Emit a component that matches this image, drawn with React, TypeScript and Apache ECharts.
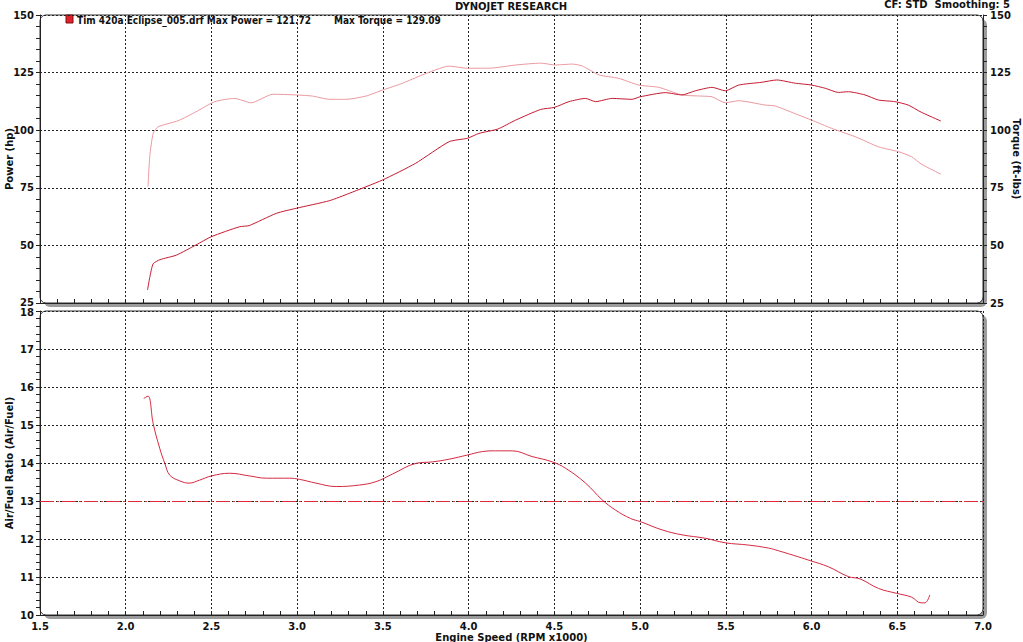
import React, { useEffect, useRef } from "react";
import * as echarts from "echarts";

// ---- Data ----
const powerRpm = [2.127, 2.14, 2.16, 2.2, 2.296, 2.41, 2.5, 2.664, 2.72, 2.878, 2.994, 3.188, 3.304, 3.498, 3.69, 3.886, 3.993, 4.06, 4.17, 4.275, 4.42, 4.5, 4.585, 4.682, 4.74, 4.837, 4.953, 5.0, 5.148, 5.244, 5.322, 5.42, 5.497, 5.575, 5.71, 5.797, 5.905, 6.0, 6.08, 6.156, 6.215, 6.312, 6.39, 6.486, 6.564, 6.64, 6.754];
const powerHp = [30.6, 36, 42, 43.8, 45.8, 50.2, 53.8, 58.1, 58.6, 63.9, 66.1, 69.4, 72.6, 78.4, 85.6, 95, 96.5, 98.6, 100.5, 104.4, 109, 109.9, 112.4, 113.8, 112.4, 113.8, 113.4, 114.5, 116.3, 115.3, 117.1, 118.6, 117.1, 119.6, 120.8, 121.8, 120.4, 119.6, 118.2, 116.4, 116.7, 115.3, 113.1, 112.4, 110.9, 107.8, 104];

const torqueRpm = [2.13, 2.14, 2.16, 2.189, 2.305, 2.41, 2.52, 2.635, 2.732, 2.858, 2.994, 3.09, 3.188, 3.285, 3.4, 3.498, 3.615, 3.73, 3.886, 3.993, 4.12, 4.275, 4.42, 4.507, 4.604, 4.662, 4.76, 4.876, 4.992, 5.109, 5.244, 5.361, 5.42, 5.497, 5.575, 5.73, 5.788, 5.924, 6.0, 6.117, 6.254, 6.39, 6.506, 6.583, 6.64, 6.754];
const torqueFtLbs = [75.5, 88.5, 98.6, 101.5, 104.1, 108, 112.4, 113.8, 111.9, 115.6, 115.3, 114.8, 113.4, 113.4, 114.8, 117.4, 120.4, 124, 127.8, 126.9, 126.9, 128.3, 129.1, 128.3, 128.7, 127.9, 124, 122.5, 119.6, 118.6, 115.3, 114.8, 114.5, 111.9, 112.8, 110.9, 110.5, 106.6, 104.4, 100.8, 97.2, 92.8, 90.7, 88.5, 85.3, 80.9];

const afrRpm = [2.105, 2.13, 2.16, 2.198, 2.228, 2.257, 2.315, 2.369, 2.431, 2.5, 2.606, 2.722, 2.82, 2.955, 3.013, 3.11, 3.227, 3.363, 3.46, 3.556, 3.693, 3.79, 3.886, 3.993, 4.08, 4.158, 4.255, 4.37, 4.488, 4.566, 4.682, 4.779, 4.857, 4.944, 5.0, 5.128, 5.244, 5.38, 5.497, 5.633, 5.75, 5.807, 5.924, 5.992, 6.098, 6.215, 6.283, 6.39, 6.496, 6.583, 6.638, 6.661, 6.69];
const afrRatio = [15.7, 15.76, 15.04, 14.39, 13.99, 13.68, 13.53, 13.47, 13.55, 13.66, 13.73, 13.66, 13.6, 13.6, 13.57, 13.47, 13.38, 13.42, 13.51, 13.71, 13.99, 14.03, 14.1, 14.21, 14.3, 14.32, 14.32, 14.17, 14.03, 13.86, 13.47, 13.03, 12.76, 12.54, 12.46, 12.24, 12.11, 12.02, 11.9, 11.84, 11.76, 11.69, 11.53, 11.43, 11.27, 11.01, 10.95, 10.7, 10.57, 10.47, 10.32, 10.32, 10.53];

const afrTarget = 13;

const titleText = "DYNOJET RESEARCH";
const cfText = "CF: STD  Smoothing: 5";
const legendRun = "Tim 420a Eclipse_005.drf Max Power = 121.72";
const legendTorque = "Max Torque = 129.09";
const powerMinLabel = "25";
const afrMaxLabel = "18";

// ---- Layout ----
const W = 1023;
const H = 642;
const L = 40;
const R = 983;
const T1 = 15;
const B1 = 303;
const T2 = 311;
const B2 = 615;

const FONT = "DejaVu Sans";
const gridColor = "#222";

function pairs(xs: number[], ys: number[]) {
  return xs.map((x, i) => [x, ys[i]]);
}

function frame(x: number, y: number, w: number, h: number) {
  return [
    {
      type: "rect",
      z: -30,
      silent: true,
      shape: { x: x + 4, y: y + 4, width: w, height: h, r: 6 },
      style: { fill: "#9c9c9c" },
    },
    {
      type: "rect",
      z: -29,
      silent: true,
      shape: { x, y, width: w, height: h, r: 6 },
      style: { fill: "#ffffff", stroke: "#333", lineWidth: 1 },
    },
  ];
}

export default function App() {
  const ref = useRef<HTMLDivElement>(null);

  useEffect(() => {
    if (!ref.current) return;
    const chart = echarts.init(ref.current, null, { renderer: "svg", width: W, height: H });

    const axisLabelStyle = {
      fontFamily: FONT,
      fontWeight: "bold" as const,
      fontSize: 10,
      color: "#111",
    };
    const splitDotted = {
      show: true,
      lineStyle: { color: gridColor, type: [2, 2] as any, width: 1 },
    };

    const xAxisCommon = {
      type: "value",
      min: 1.5,
      max: 7.0,
      interval: 0.5,
      axisLine: { show: true, lineStyle: { color: "#222", width: 1 } },
      axisTick: { show: true, inside: true, length: 4, lineStyle: { color: "#222" } },
      minorTick: { show: true, splitNumber: 5, length: 4, lineStyle: { color: "#222" } },
      splitLine: splitDotted,
    };

    const labelFont = `bold 10px '${FONT}'`;

    const option: any = {
      animation: false,
      backgroundColor: "#ffffff",
      grid: [
        { left: L, right: W - R, top: T1, height: B1 - T1, outerBoundsMode: "none", containLabel: false },
        { left: L, right: W - R, top: T2, height: B2 - T2, outerBoundsMode: "none", containLabel: false },
      ],
      xAxis: [
        { ...xAxisCommon, gridIndex: 0, axisLabel: { show: false } },
        {
          ...xAxisCommon,
          gridIndex: 1,
          axisLabel: {
            ...axisLabelStyle,
            margin: 6,
            lineHeight: 10,
            formatter: (v: number) => v.toFixed(1),
          },
          name: "Engine Speed (RPM x1000)",
          nameLocation: "middle",
          nameGap: 17,
          nameMoveOverlap: false,
          nameTextStyle: { ...axisLabelStyle, lineHeight: 10 },
        },
      ],
      yAxis: [
        {
          type: "value",
          gridIndex: 0,
          position: "left",
          min: 25,
          max: 150,
          interval: 25,
          axisLine: { show: true, lineStyle: { color: "#222" } },
          axisTick: { show: true, length: 4, lineStyle: { color: "#222" } },
          minorTick: { show: true, splitNumber: 5, length: 4, lineStyle: { color: "#222" } },
          splitLine: splitDotted,
          axisLabel: { ...axisLabelStyle, margin: 6, showMinLabel: false },
          name: "Power (hp)",
          nameLocation: "middle",
          nameRotate: 90,
          nameGap: 26,
          nameMoveOverlap: false,
          nameTextStyle: { ...axisLabelStyle },
        },
        {
          type: "value",
          gridIndex: 0,
          position: "right",
          min: 25,
          max: 150,
          interval: 25,
          axisLine: { show: true, lineStyle: { color: "#222" } },
          axisTick: { show: true, length: 4, lineStyle: { color: "#222" } },
          minorTick: { show: true, splitNumber: 5, length: 4, lineStyle: { color: "#222" } },
          splitLine: { show: false },
          axisLabel: { ...axisLabelStyle, margin: 7 },
          name: "Torque (ft-lbs)",
          nameLocation: "middle",
          nameRotate: -90,
          nameGap: 28,
          nameMoveOverlap: false,
          nameTextStyle: { ...axisLabelStyle, lineHeight: 10 },
        },
        {
          type: "value",
          gridIndex: 1,
          position: "left",
          min: 10,
          max: 18,
          interval: 1,
          axisLine: { show: true, lineStyle: { color: "#222" } },
          axisTick: { show: true, length: 4, lineStyle: { color: "#222" } },
          minorTick: { show: true, splitNumber: 5, length: 4, lineStyle: { color: "#222" } },
          splitLine: splitDotted,
          axisLabel: { ...axisLabelStyle, margin: 6, showMaxLabel: false },
          name: "Air/Fuel Ratio (Air/Fuel)",
          nameLocation: "middle",
          nameRotate: 90,
          nameGap: 26,
          nameMoveOverlap: false,
          nameTextStyle: { ...axisLabelStyle },
        },
      ],
      series: [
        {
          name: "Torque",
          type: "line",
          xAxisIndex: 0,
          yAxisIndex: 1,
          data: pairs(torqueRpm, torqueFtLbs),
          showSymbol: false,
          smooth: 0.2,
          lineStyle: { color: "#eb98a0", width: 1 },
          z: 3,
        },
        {
          name: "Power",
          type: "line",
          xAxisIndex: 0,
          yAxisIndex: 0,
          data: pairs(powerRpm, powerHp),
          showSymbol: false,
          smooth: 0.2,
          lineStyle: { color: "#c41a30", width: 1 },
          z: 4,
        },
        {
          name: "AFR",
          type: "line",
          xAxisIndex: 1,
          yAxisIndex: 2,
          data: pairs(afrRpm, afrRatio),
          showSymbol: false,
          smooth: 0.4,
          lineStyle: { color: "#d42a40", width: 1 },
          z: 4,
          markLine: {
            silent: true,
            symbol: "none",
            label: { show: false },
            lineStyle: { color: "#e0283a", width: 1, type: [14, 3, 2, 3] as any },
            data: [{ yAxis: afrTarget }],
          },
        },
      ],
      graphic: [
        ...frame(L, T1, R - L, B1 - T1),
        ...frame(L, T2, R - L, B2 - T2),
        {
          type: "text",
          x: L - 6,
          y: 307,
          style: { text: powerMinLabel, font: labelFont, fill: "#111", align: "right", verticalAlign: "bottom" },
        },
        {
          type: "text",
          x: L - 6,
          y: 307,
          style: { text: afrMaxLabel, font: labelFont, fill: "#111", align: "right", verticalAlign: "top" },
        },
        {
          type: "text",
          x: 511,
          y: 6,
          style: {
            text: titleText,
            font: labelFont,
            fill: "#111",
            align: "center",
            verticalAlign: "middle",
          },
        },
        {
          type: "text",
          x: 1010,
          y: 4,
          style: {
            text: cfText,
            font: labelFont,
            fill: "#111",
            align: "right",
            verticalAlign: "middle",
          },
        },
        {
          type: "rect",
          shape: { x: 66, y: 15, width: 7, height: 8 },
          style: { fill: "#e0202a", stroke: "#801010", lineWidth: 1 },
        },
        {
          type: "text",
          x: 77,
          y: 20,
          style: {
            text: legendRun,
            font: `bold 10px 'DejaVu Sans Condensed', 'Liberation Sans'`,
            fill: "#111",
            align: "left",
            verticalAlign: "middle",
          },
        },
        {
          type: "text",
          x: 334,
          y: 20,
          style: {
            text: legendTorque,
            font: `bold 10px 'DejaVu Sans Condensed', 'Liberation Sans'`,
            fill: "#111",
            align: "left",
            verticalAlign: "middle",
          },
        },
      ],
    };

    chart.setOption(option);
    return () => {
      chart.dispose();
    };
  }, []);

  return (
    <div
      ref={ref}
      style={{ position: "fixed", left: 0, top: 0, width: W, height: H, background: "#fff" }}
    />
  );
}
